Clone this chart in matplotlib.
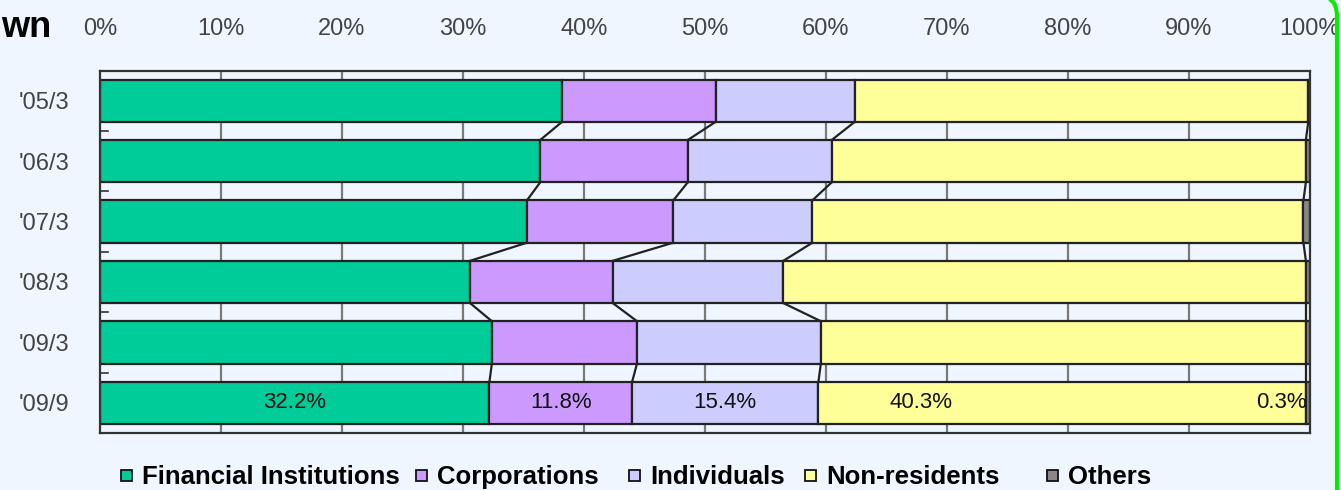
import numpy as np
import matplotlib
matplotlib.use("Agg")
import matplotlib.pyplot as plt
from matplotlib.patches import Rectangle
from matplotlib.lines import Line2D

# ---------------- data ----------------
periods = ["'05/3", "'06/3", "'07/3", "'08/3", "'09/3", "'09/9"]
series_names = ["Financial Institutions", "Corporations", "Individuals",
                "Non-residents", "Others"]
financial = [38.2, 36.4, 35.3, 30.6, 32.4, 32.2]
corporations = [12.7, 12.2, 12.1, 11.8, 12.0, 11.8]
individuals = [11.5, 11.9, 11.5, 14.1, 15.2, 15.4]
non_residents = [37.5, 39.2, 40.6, 43.2, 40.1, 40.3]
others = [0.1, 0.3, 0.5, 0.3, 0.3, 0.3]
colors = ["#00CC99", "#CC99FF", "#CCCCFF", "#FFFF99", "#888888"]
x_ticks = list(range(0, 101, 10))

W, H = 1341, 490
BG = "#EFF6FF"
SANS = ["Liberation Sans", "DejaVu Sans"]


def fx(px):
    return px / W


def fy(py):
    return 1 - py / H


fig = plt.figure(figsize=(W / 100, H / 100), dpi=100, facecolor=BG)
ax = fig.add_axes([fx(100), fy(433), fx(1309.5) - fx(100), fy(70.5) - fy(433)])
ax.set_facecolor(BG)

values = np.array([financial, corporations, individuals, non_residents, others])
n = len(periods)
ypos = np.arange(n)
bar_h = 0.7

# grid lines under the bars
for xt in x_ticks[1:-1]:
    ax.axvline(xt, color="#7a7a7a", lw=1.6, zorder=0)

left = np.zeros(n)
for i, vals in enumerate(values):
    ax.barh(ypos, vals, left=left, height=bar_h, color=colors[i],
            edgecolor="#222222", linewidth=1.6, zorder=2)
    left = left + vals

# series lines between bars
cum = np.cumsum(values, axis=0)
for k in range(4):
    for r in range(n - 1):
        ax.plot([cum[k, r], cum[k, r + 1]],
                [ypos[r] + bar_h / 2, ypos[r + 1] - bar_h / 2],
                color="#222222", lw=1.6, zorder=3)

# labels on the last bar
last = n - 1
starts = cum[:, last] - values[:, last]
lab_font = dict(family=SANS, fontsize=16, color="#111111",
                va="center", zorder=5)
for k in range(3):
    ax.text(starts[k] + values[k, last] / 2, ypos[last],
            f"{values[k, last]:.1f}%", ha="center", **lab_font)
ax.text(starts[3] + values[3, last] * 0.21, ypos[last],
        f"{values[3, last]:.1f}%", ha="center", **lab_font)
ax.text(cum[4, last] - 0.2, ypos[last], f"{values[4, last]:.1f}%",
        ha="right", **lab_font)

ax.set_xlim(0, 100)
ax.set_ylim(n - 0.5, -0.5)
ax.xaxis.tick_top()
ax.set_xticks(x_ticks)
ax.set_xticklabels([f"{t}%" for t in x_ticks])
ax.tick_params(axis="x", length=0, pad=22, labelsize=17, labelcolor="#444444")
ax.set_yticks(ypos)
ax.set_yticklabels(periods)
ax.tick_params(axis="y", length=0, pad=22, labelsize=17, labelcolor="#444444")
for lab in ax.get_xticklabels() + ax.get_yticklabels():
    lab.set_family(SANS)

# small inner ticks between rows
for r in range(n - 1):
    ax.plot([0, 0.7], [r + 0.5, r + 0.5], color="#333333", lw=1.2,
            zorder=1, clip_on=False)

for s in ax.spines.values():
    s.set_color("#333333")
    s.set_linewidth(1.6)

# title fragment
fig.text(fx(1), fy(37), "wn", ha="left", va="baseline", fontsize=26,
         fontweight="bold", family=SANS, color="black")

# legend
text_x = [142, 437, 650, 826, 1068]
for name, c, tx in zip(series_names, colors, text_x):
    fig.add_artist(Rectangle((fx(tx - 21), fy(481)), fx(11), 11 / H,
                             facecolor=c, edgecolor="#111111", lw=1.3,
                             transform=fig.transFigure))
    fig.text(fx(tx), fy(484), name, ha="left", va="baseline", fontsize=18.5,
             fontweight="bold", family=SANS, color="black")

# green frame on the right
gx = [1331, 1334, 1336, 1337, 1337]
gy = [0, 3, 8, 14, 492]
fig.add_artist(Line2D([fx(v) for v in gx], [fy(v) for v in gy],
                      color="#00EE00", lw=3, transform=fig.transFigure))

fig.savefig("out.png", dpi=100, facecolor=BG)
